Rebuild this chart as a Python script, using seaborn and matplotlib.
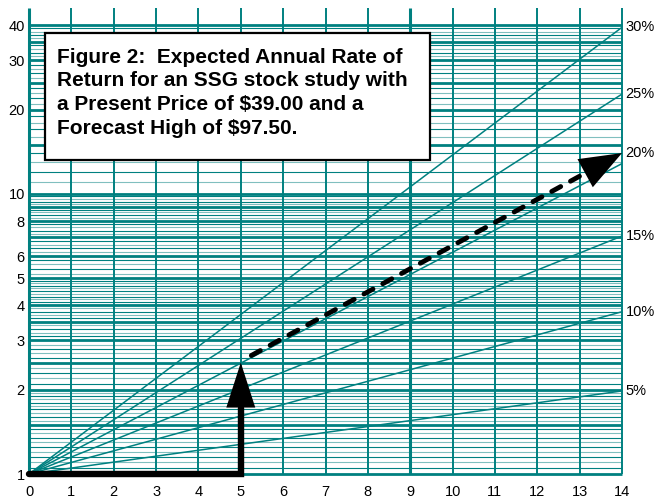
import numpy as np
import pandas as pd
import matplotlib
matplotlib.use("Agg")
import matplotlib.pyplot as plt
import seaborn as sns
from matplotlib.patches import Rectangle

sns.set_style("white")
plt.rcParams["font.family"] = ["Liberation Sans", "DejaVu Sans"]

TEAL = "#008080"
LIGHT_TEAL = "#80bfbf"

# ---- data ----
years = list(range(0, 15))
growth_rates = [5, 10, 15, 20, 25, 30]
rate_labels = ["5%", "10%", "15%", "20%", "25%", "30%"]
rate_label_y = [1.98, 3.80, 7.08, 14.0, 22.7, 39.4]
y_ticks = [1, 2, 3, 4, 5, 6, 8, 10, 20, 30, 40]
x_ticks = list(range(0, 15))

present_price = 39.00
forecast_high = 97.50
years_to_target = 5
price_ratio = forecast_high / present_price

trend_start = (5.25, 2.65)
trend_end = (14.0, 14.0)

major_y = [1, 1.5, 2, 2.5, 3, 3.5, 4, 5, 6, 7, 8, 9, 10, 15, 20, 25, 30, 35, 40]
y_top = 46

# growth curves: value multiple after n years at each compound rate
rows = []
for r in growth_rates:
    for yr in years:
        rows.append({"rate": r, "year": yr, "multiple": (1 + r / 100) ** yr})
curves = pd.DataFrame(rows)

# ---- figure ----
fig = plt.figure(figsize=(6.57, 5.01), dpi=100)
fig.patch.set_facecolor("white")
ax = fig.add_axes([29 / 657, 27 / 501, 593 / 657, 465.6 / 501])
ax.set_yscale("log")
ax.set_xlim(0, 14)
ax.set_ylim(1, y_top)
for s in ax.spines.values():
    s.set_visible(False)

# semi-log graph-paper ruling
minor_y = np.concatenate([
    np.arange(1.05, 2.0, 0.05),
    np.arange(2.1, 5.0, 0.1),
    np.arange(5.2, 10.0, 0.2),
    [11, 12, 13, 14],
    np.arange(16, 40, 1.0),
])
minor_y = [v for v in minor_y if min(abs(v - m) for m in major_y) > 1e-6]
dark_minor = minor_y[0::2]
light_minor = minor_y[1::2]
ax.hlines(light_minor, 0, 14, color=LIGHT_TEAL, lw=0.8, zorder=1, clip_on=False)
ax.hlines(dark_minor, 0, 14, color=TEAL, lw=0.8, zorder=1, clip_on=False)
ax.hlines(major_y, 0, 14, color=TEAL, lw=2.0, zorder=1.2, clip_on=False)

vx_thin = [x for x in x_ticks if x not in (0, 9)]
ax.vlines(vx_thin, 1, y_top, color=TEAL, lw=1.4, zorder=1.3, clip_on=False)
ax.vlines([0, 9], 1, y_top, color=TEAL, lw=2.2, zorder=1.3, clip_on=False)

# constant-growth lines
sns.lineplot(data=curves, x="year", y="multiple", units="rate", estimator=None,
             color=TEAL, lw=1.1, ax=ax, zorder=2, legend=False)

for lab, yv in zip(rate_labels, rate_label_y):
    ax.annotate(lab, xy=(14, yv), xytext=(2.5, 0), textcoords="offset points",
                ha="left", va="center", fontsize=10.5, color="black",
                annotation_clip=False)

ax.set_xticks(x_ticks)
ax.set_xticklabels([str(x) for x in x_ticks])
ax.set_yticks(y_ticks)
ax.set_yticklabels([str(y) for y in y_ticks])
ax.yaxis.set_minor_locator(matplotlib.ticker.NullLocator())
ax.tick_params(axis="both", length=0, labelsize=10.5, colors="black")
ax.tick_params(axis="y", pad=3)
ax.tick_params(axis="x", pad=8)
ax.set_xlabel("")
ax.set_ylabel("")


def head_polygon(tail, tip, length_px, half_w_px):
    """Triangle arrowhead ending at tip, drawn in display space."""
    t = ax.transData.transform(tail)
    p = ax.transData.transform(tip)
    d = (p - t) / np.hypot(*(p - t))
    n = np.array([-d[1], d[0]])
    base = p - d * length_px
    pts = np.array([p, base + n * half_w_px, base - n * half_w_px])
    return ax.transData.inverted().transform(pts), ax.transData.inverted().transform(base)


# holding period: 5 years flat, then rise to the forecast ratio
head_pts, head_base = head_polygon((years_to_target, 1), (years_to_target, price_ratio), 45, 14.5)
ax.plot([0, years_to_target, years_to_target], [1, 1, head_base[1]], color="black",
        lw=4.6, solid_joinstyle="miter", solid_capstyle="round", zorder=4, clip_on=False)
ax.fill(head_pts[:, 0], head_pts[:, 1], color="black", zorder=4, lw=0)

# projected trend (dashed)
head_pts2, head_base2 = head_polygon(trend_start, trend_end, 42, 16)
ax.plot([trend_start[0], head_base2[0]], [trend_start[1], head_base2[1]], color="black",
        lw=3.5, linestyle=(0, (2.1, 2.3)), dash_capstyle="round", zorder=4)
ax.fill(head_pts2[:, 0], head_pts2[:, 1], color="black", zorder=4, lw=0, clip_on=False)

# caption box
W, H = 657, 501
box = Rectangle((45 / W, 1 - 160 / H), 385 / W, 127 / H, transform=fig.transFigure,
                facecolor="white", edgecolor="black", lw=1.6, zorder=5)
fig.add_artist(box)
caption = ("Figure 2:  Expected Annual Rate of\n"
           "Return for an SSG stock study with\n"
           f"a Present Price of \\${present_price:.2f} and a\n"
           f"Forecast High of \\${forecast_high:.2f}.")
fig.text(57 / W, 1 - 48 / H, caption, ha="left", va="top", fontsize=15,
         fontweight="bold", linespacing=1.3, zorder=6, color="black")

fig.savefig("out.png", dpi=100, facecolor="white")
